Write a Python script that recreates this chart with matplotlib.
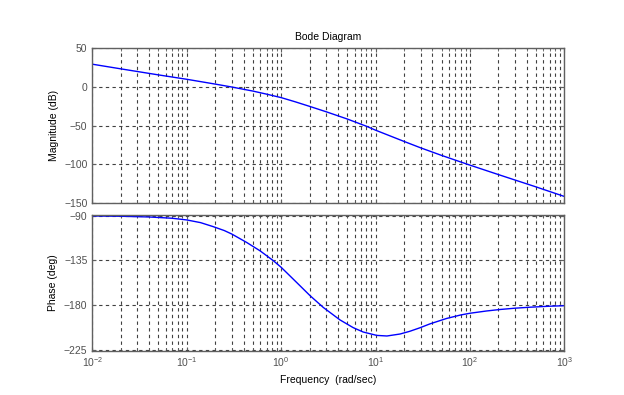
import matplotlib.pyplot as plt
from matplotlib.ticker import LogLocator, NullFormatter

plt.rcParams['font.family'] = ['Liberation Sans', 'DejaVu Sans']
plt.rcParams['mathtext.default'] = 'regular'

# Data (rad/sec, dB, deg)
freq_mag = [0.01, 0.02, 0.05, 0.1, 0.2, 0.3, 0.5, 0.7, 1, 1.4, 2, 3, 5, 8,
            10, 20, 30, 50, 100, 200, 500, 1000]
mag_db = [29.5, 23.5, 15.7, 10, 3.8, 0, -5.2, -9.2, -13.7, -19.0, -25.0, -32.0, -41.3, -50.7,
          -55.8, -70.3, -78.6, -88.4, -101, -113.2, -129.1, -141.5]

freq_ph = [0.01, 0.02, 0.04, 0.07, 0.1, 0.14, 0.19, 0.25, 0.3, 0.43, 0.6, 0.83, 1.0,
           1.25, 1.58, 2.02, 2.8, 4.2, 5.8, 7.4, 10.3, 13.2, 18.2, 23, 29.4, 37.7,
           56.8, 80, 100, 150, 209, 300, 434, 700, 1000]
phase_deg = [-90.3, -90.6, -91.3, -92.6, -94.3, -97, -101, -105, -108.5, -116.9,
             -125.5, -135.5, -142, -151, -160.5, -170.5, -182.5, -195, -202.8, -207.2,
             -210.6, -211.2, -209.2, -206.5, -203, -199, -193.5, -190, -188.3, -186,
             -184.5, -183.2, -182.2, -181.2, -180.7]

mag_ticks = [-150, -100, -50, 0, 50]
phase_ticks = [-225, -180, -135, -90]

frame_color = '#606060'
text_color = '#505050'
grid_color = '#404040'

fig = plt.figure(figsize=(6.24, 3.95), dpi=100)
ax1 = fig.add_axes([0.148, 0.486, 0.7564, 0.3916])
ax2 = fig.add_axes([0.148, 0.1122, 0.7564, 0.3438])

ax1.plot(freq_mag, mag_db, color='#0000ff', linewidth=1.0)
ax2.plot(freq_ph, phase_deg, color='#0000ff', linewidth=1.0)

for ax in (ax1, ax2):
    ax.set_xscale('log')
    ax.set_xlim(1e-2, 1e3)
    ax.xaxis.set_major_locator(LogLocator(base=10, numticks=10))
    ax.xaxis.set_minor_locator(LogLocator(base=10, subs=range(2, 10), numticks=10))
    ax.xaxis.set_minor_formatter(NullFormatter())
    ax.grid(True, which='major', linestyle=(0, (3, 3)), color=grid_color, linewidth=0.8)
    ax.grid(True, which='minor', axis='x', linestyle=(0, (3, 3)), color=grid_color, linewidth=0.8)
    ax.set_axisbelow(True)
    ax.tick_params(axis='both', which='both', direction='in', colors=frame_color,
                   labelcolor=text_color, labelsize=7.5, top=True, right=True)
    ax.tick_params(which='minor', length=2)
    ax.tick_params(which='major', length=3)
    for spine in ax.spines.values():
        spine.set_color(frame_color)
        spine.set_linewidth(1.0)

ax1.set_ylim(-150, 50)
ax1.set_yticks(mag_ticks)
ax1.tick_params(axis='x', labelbottom=False)
ax1.set_ylabel('Magnitude (dB)', fontsize=7.5, color='black')
ax1.set_title('Bode Diagram', fontsize=7.5, color='black', pad=6)

ax2.set_ylim(-226, -89.2)
ax2.set_yticks(phase_ticks)
ax2.set_ylabel('Phase (deg)', fontsize=7.5, color='black')
ax2.set_xlabel('Frequency  (rad/sec)', fontsize=7.5, color='black')

fig.align_ylabels([ax1, ax2])
fig.savefig('out.png', dpi=100)
